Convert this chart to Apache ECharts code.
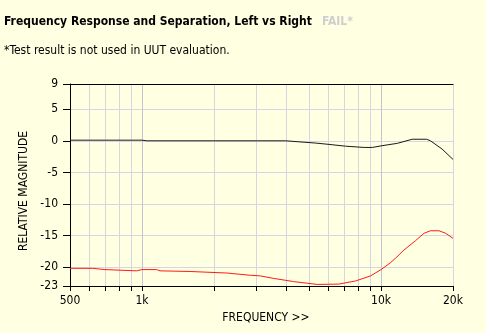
<!DOCTYPE html>
<html>
<head>
<meta charset="utf-8">
<script src="https://cdn.jsdelivr.net/npm/echarts@6/dist/echarts.min.js"></script>
<style>
  html, body { margin: 0; padding: 0; background: #ffffe1; }
  #chart { width: 486px; height: 333px; }
</style>
</head>
<body>
<div id="chart"></div>
<script>
// Left-channel frequency response (dB relative), sampled at frequencies in Hz
const respFreq = [500, 1000, 1050, 2000, 3000, 4000, 4500, 5300, 6000, 7100, 8500, 9200, 10000, 11700, 13500, 15500, 16100, 18000, 20000];
const respVal  = [0.1, 0.1, 0.0, 0.0, 0.0, 0.0, -0.15, -0.35, -0.55, -0.85, -1.05, -1.05, -0.8, -0.4, 0.25, 0.25, 0.0, -1.3, -2.95];

// Left-to-right separation (dB relative)
const sepFreq = [500, 620, 632, 700, 712, 950, 1000, 1150, 1190, 1590, 2270, 2840, 3130, 3560, 4310, 5410, 6660, 7830, 9040, 10000, 10960, 11500, 12470, 13960, 15120, 16100, 17480, 18650, 20000];
const sepVal  = [-20.2, -20.2, -20.4, -20.4, -20.6, -20.6, -20.4, -20.4, -20.6, -20.7, -20.95, -21.3, -21.4, -21.8, -22.3, -22.75, -22.7, -22.2, -21.4, -20.4, -19.3, -18.6, -17.3, -15.8, -14.65, -14.25, -14.25, -14.65, -15.45];

// Axis marks
const xTicks = [500, 600, 700, 800, 900, 1000, 2000, 3000, 4000, 5000, 6000, 7000, 8000, 9000, 10000, 20000];
const xLabels = [500, 1000, 10000, 20000];
const yMin = -23, yMax = 9;

const titleText = 'Frequency Response and Separation, Left vs Right';
const statusText = 'FAIL*';
const noteText = '*Test result is not used in UUT evaluation.';

const FONT = 'DejaVu Sans Condensed, DejaVu Sans, sans-serif';

function pairs(xs, ys) { return xs.map((x, i) => [x, ys[i]]); }
function fmtFreq(v) {
  const r = Math.round(v);
  return r >= 1000 ? (r / 1000) + 'k' : String(r);
}

const gridColors = xTicks.map(v => (v === 1000 || v === 10000) ? '#c4c4d0' : '#d6d6e2');

const chart = echarts.init(document.getElementById('chart'), null, { renderer: 'canvas' });
chart.setOption({
  backgroundColor: '#ffffe1',
  animation: false,
  title: [
    {
      left: 4, top: 13, padding: 0,
      text: '{a|' + titleText + '}  {b|' + statusText + '}',
      textStyle: {
        rich: {
          a: { fontFamily: FONT, fontSize: 12, fontWeight: 'bold', color: '#000' },
          b: { fontFamily: FONT, fontSize: 12, fontWeight: 'bold', color: '#cfcfcf' }
        }
      }
    },
    {
      left: 4, top: 45, padding: 0,
      text: noteText,
      textStyle: { fontFamily: FONT, fontSize: 12, fontWeight: 'normal', color: '#000' }
    }
  ],
  grid: { left: 70, right: 33, top: 84, bottom: 47, containLabel: false },
  xAxis: [
    {
      type: 'log', logBase: 10, min: 500, max: 20000,
      name: 'FREQUENCY >>', nameLocation: 'middle', nameGap: 26,
      nameTextStyle: { fontFamily: FONT, fontSize: 12, color: '#000', padding: [0, 0, 0, 9] },
      axisLine: { show: true, onZero: false, lineStyle: { color: '#000', width: 1 } },
      axisTick: { show: true, length: 5, customValues: xTicks, lineStyle: { color: '#000', width: 1 } },
      axisLabel: { customValues: xLabels, formatter: fmtFreq, margin: 9, fontFamily: FONT, fontSize: 12, color: '#000' },
      splitLine: { show: true, lineStyle: { color: gridColors, width: 1 } },
      minorTick: { show: false }, minorSplitLine: { show: false }
    },
    {
      type: 'log', logBase: 10, min: 500, max: 20000, position: 'top',
      axisLine: { show: true, onZero: false, lineStyle: { color: '#000', width: 1 } },
      axisTick: { show: false }, axisLabel: { show: false }, splitLine: { show: false }
    }
  ],
  yAxis: {
    // nice step of 5 between the extremes; the extremes themselves get ticks too
    type: 'value', min: yMin, max: yMax, splitNumber: 6,
    name: 'RELATIVE MAGNITUDE', nameLocation: 'middle', nameGap: 33, nameRotate: 90,
    nameTextStyle: { fontFamily: FONT, fontSize: 12, color: '#000', padding: [0, 12, 0, 0] },
    axisLine: { show: true, onZero: false, lineStyle: { color: '#000', width: 1 } },
    axisTick: { show: true, length: 7, lineStyle: { color: '#000', width: 1 } },
    axisLabel: { show: true, showMinLabel: true, showMaxLabel: true, margin: 12, fontFamily: FONT, fontSize: 12, color: '#000' },
    splitLine: { show: true, lineStyle: { color: '#d6d6e2', width: 1 } }
  },
  series: [
    {
      name: 'Response', type: 'line', data: pairs(respFreq, respVal),
      showSymbol: false, symbol: 'none', smooth: false,
      lineStyle: { color: '#1a1a1a', width: 1 }, z: 3
    },
    {
      name: 'Separation', type: 'line', data: pairs(sepFreq, sepVal),
      showSymbol: false, symbol: 'none', smooth: false,
      lineStyle: { color: '#ff1a1a', width: 1 }, z: 3
    }
  ]
});
</script>
</body>
</html>
